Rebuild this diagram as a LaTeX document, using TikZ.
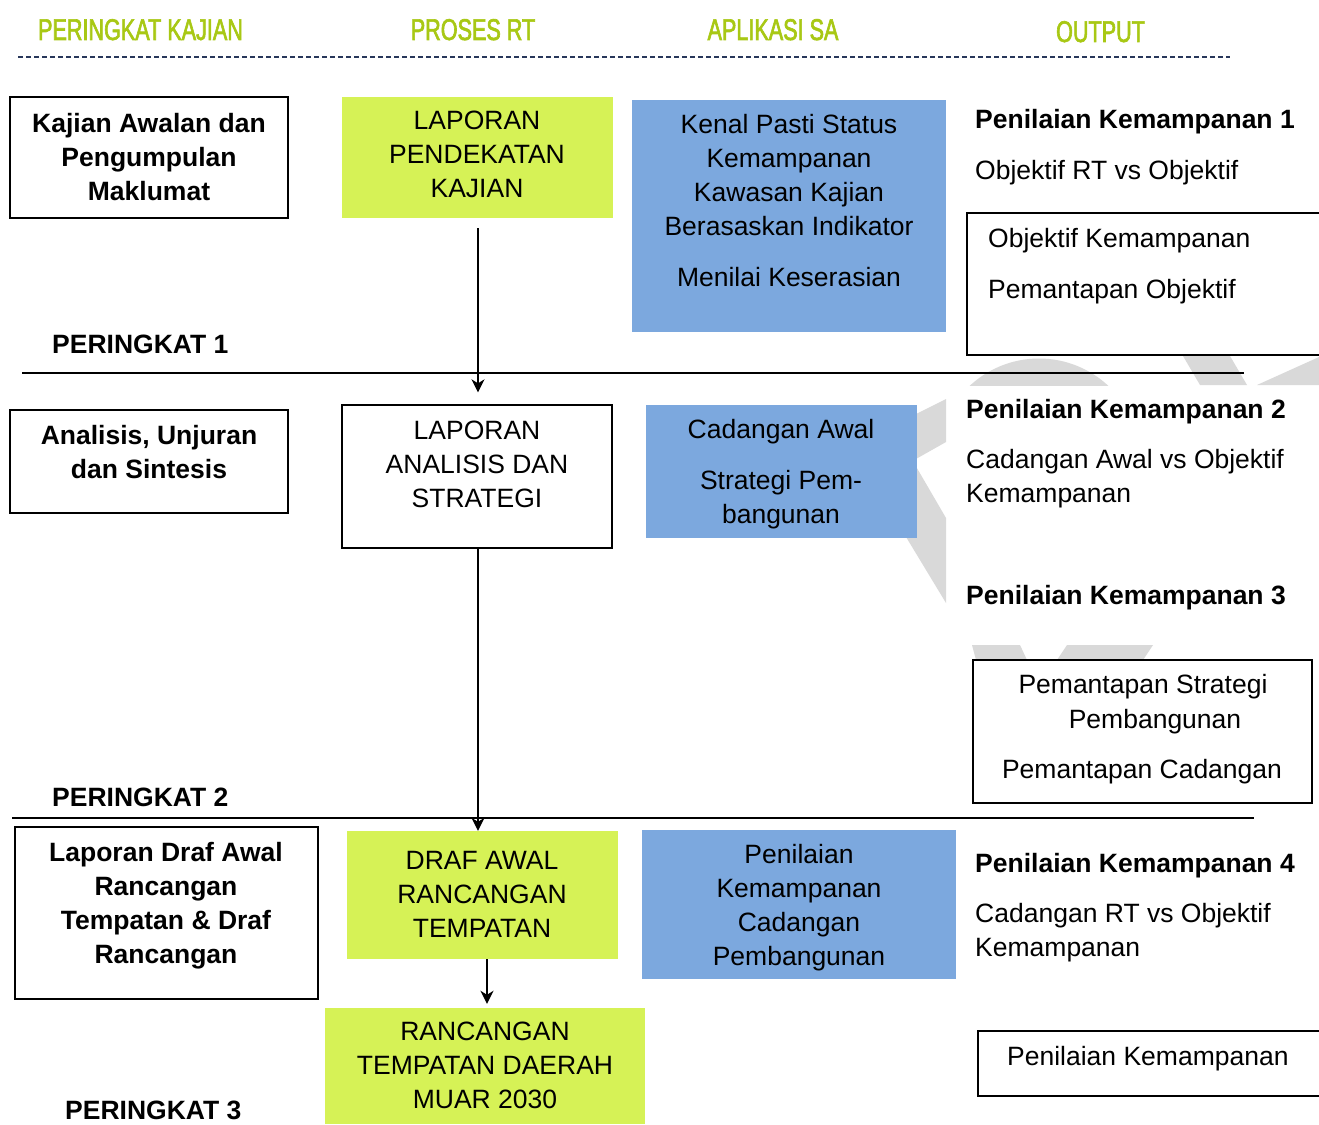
\documentclass[tikz,border=0pt]{standalone}
\usepackage{fontspec}
\setmainfont{Liberation Sans}
\newfontfamily\hdrfont[FakeStretch=0.72,FakeBold=2]{Liberation Sans}
\usetikzlibrary{arrows.meta,calc}
\definecolor{hdrgreen}{RGB}{168,200,20}
\definecolor{boxgreen}{RGB}{214,242,86}
\definecolor{boxblue}{RGB}{124,168,222}
\definecolor{navy}{RGB}{40,55,90}
\definecolor{wmgray}{RGB}{217,217,217}
\begin{document}
\begin{tikzpicture}[x=1pt,y=-1pt,
  hdr/.style={font=\hdrfont\fontsize{30}{34}\selectfont, text=hdrgreen, inner sep=0, anchor=base},
  txt/.style={font=\fontsize{26.5}{34}\selectfont, align=center, inner sep=0},
  btxt/.style={font=\fontsize{26.5}{34}\selectfont\bfseries, align=center, inner sep=0},
  ltxt/.style={font=\fontsize{26.5}{34}\selectfont, align=left, inner sep=0},
  frame/.style={draw=black, line width=1.3pt, fill=white, inner sep=0},
  gbox/.style={fill=boxgreen, inner sep=0},
  bbox/.style={fill=boxblue, inner sep=0},
  arr/.style={line width=2pt, -{Stealth[length=13pt,width=13pt,inset=4pt]}},
  rule/.style={line width=1.8pt}
]
\useasboundingbox (0,0) rectangle (1319,1124);
\fill[white] (0,0) rectangle (1319,1124);

% watermark (visible parts)
\begin{scope}[wmgray]
  \fill (900,422) -- (946,399) -- (946,442) -- (900,468) -- cycle;
  \fill (900,439) -- (946,518) -- (946,603) -- (900,527) -- cycle;
  \begin{scope}
    \clip (946,356) rectangle (1319,385);
    \fill (1039,460) circle[radius=101.5];
  \end{scope}
  \fill (1183,356) -- (1230,356) -- (1247,385) -- (1200,385) -- cycle;
  \fill (1257,385) -- (1319,357) -- (1319,385) -- cycle;
  \fill (972,645) -- (1020,645) -- (1027,660) -- (976,660) -- cycle;
  \fill (1067,645) -- (1153,645) -- (1143,660) -- (1057,660) -- cycle;
\end{scope}

% headers
\node[hdr] (h1) at (140.5,40) {PERINGKAT KAJIAN};
\node[hdr] (h2) at (473,40) {PROSES RT};
\node[hdr] (h3) at (773,40) {APLIKASI SA};
\node[hdr] (h4) at (1100.5,42) {OUTPUT};
\coordinate (dl) at (18,57);
\coordinate (dr) at (1230,57);
\draw[navy, line width=1.6pt, dash pattern=on 5pt off 3pt] (dl) -- (dr);

% level rules
\coordinate (r1l) at (22,373);
\coordinate (r1r) at (1244,373);
\coordinate (r2l) at (12,818);
\coordinate (r2r) at (1254,818);

% column 1
\node[frame, minimum width=278, minimum height=121] (kA) at (149,157.5) {};
\node[btxt] (kAt) at (149,157) {Kajian Awalan dan\\Pengumpulan\\Maklumat};
\node[frame, minimum width=278, minimum height=103] (kB) at (149,461.5) {};
\node[btxt] (kBt) at (149,452) {Analisis, Unjuran\\dan Sintesis};
\node[frame, minimum width=303, minimum height=172] (kC) at (166.5,913) {};
\node[btxt] (kCt) at (166,906) {Laporan Draf Awal\\Rancangan\\Tempatan \& Draf\\Rancangan};
\node[btxt, anchor=base west] (p1) at (52,353.5) {PERINGKAT 1};
\node[btxt, anchor=base west] (p2) at (52,806.5) {PERINGKAT 2};
\node[btxt, anchor=base west] (p3) at (65,1119.5) {PERINGKAT 3};

% column 2
\node[gbox, minimum width=271, minimum height=121] (g1) at (477.5,157.5) {};
\node[txt] (g1t) at (477,154.5) {LAPORAN\\PENDEKATAN\\KAJIAN};
\node[frame, minimum width=270, minimum height=143] (w2) at (477,476.5) {};
\node[txt] (w2t) at (477,464.5) {LAPORAN\\ANALISIS DAN\\STRATEGI};
\node[gbox, minimum width=271, minimum height=128] (g3) at (482.5,895) {};
\node[txt] (g3t) at (482,894.5) {DRAF AWAL\\RANCANGAN\\TEMPATAN};
\node[gbox, minimum width=320, minimum height=116] (g4) at (485,1066) {};
\node[txt] (g4t) at (485,1065) {RANCANGAN\\TEMPATAN DAERAH\\MUAR 2030};

% column 3
\node[bbox, minimum width=314, minimum height=232] (b1) at (789,216) {};
\node[txt] (b1t) at (789,201) {Kenal Pasti Status\\Kemampanan\\Kawasan Kajian\\Berasaskan Indikator\\[17pt]Menilai Keserasian};
\node[bbox, minimum width=271, minimum height=133] (b2) at (781.5,471.5) {};
\node[txt] (b2t) at (781,474) {Cadangan Awal\\[17pt]Strategi Pem-\\bangunan};
\node[bbox, minimum width=314, minimum height=149] (b3) at (799,904.5) {};
\node[txt] (b3t) at (799,907.5) {Penilaian\\Kemampanan\\Cadangan\\Pembangunan};

% column 4
\node[btxt, anchor=base west] (o1h) at (975,128.5) {Penilaian Kemampanan 1};
\node[txt, anchor=base west] (o1a) at (975,179.5) {Objektif RT vs Objektif};
\node[frame, minimum width=370, minimum height=142] (o1b) at (1152,284) {};
\node[txt, anchor=base west] (o1b1) at (988,247.5) {Objektif Kemampanan};
\node[txt, anchor=base west] (o1b2) at (988,298.5) {Pemantapan Objektif};

\node[btxt, anchor=base west] (o2h) at (966,418.5) {Penilaian Kemampanan 2};
\node[ltxt, anchor=west] (o2a) at (966,479) {Cadangan Awal vs Objektif\\Kemampanan};

\node[btxt, anchor=base west] (o3h) at (966,604.5) {Penilaian Kemampanan 3};
\node[frame, minimum width=339, minimum height=143] (o3b) at (1142.5,731.5) {};
\node[txt] (o3b1) at (1143,687) {Pemantapan Strategi};
\node[txt] (o3b2) at (1155,722) {Pembangunan};
\node[txt] (o3b3) at (1142,772) {Pemantapan Cadangan};

\node[btxt, anchor=base west] (o4h) at (975,872.5) {Penilaian Kemampanan 4};
\node[ltxt, anchor=west] (o4a) at (975,933) {Cadangan RT vs Objektif\\Kemampanan};
\node[frame, minimum width=360, minimum height=65] (o4b) at (1158,1063.5) {};
\node[txt, anchor=base west] (o4b1) at (1007,1065.5) {Penilaian Kemampanan};

% rules
\draw[rule] (r1l) -- (r1r);
\draw[rule] (r2l) -- (r2r);

% arrows
\draw[arr, shorten <=10pt, shorten >=12pt] (g1.south -| 478,0) -- (w2.north -| 478,0);
\draw[arr] (w2.south -| 478,0) -- (g3.north -| 478,0);
\draw[arr, shorten >=4pt] (g3.south -| 487,0) -- (g4.north -| 487,0);
\end{tikzpicture}
\end{document}
